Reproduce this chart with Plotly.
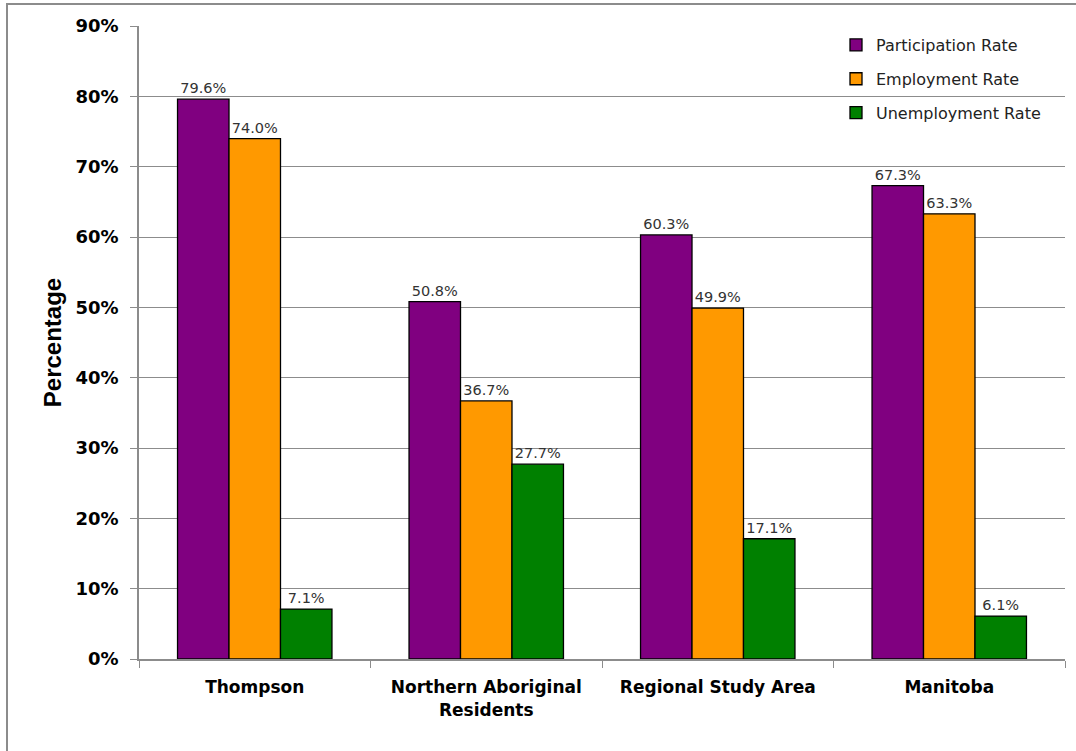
import plotly.graph_objects as go

categories = ["Thompson", "Northern Aboriginal<br>Residents", "Regional Study Area", "Manitoba"]
series_names = ["Participation Rate", "Employment Rate", "Unemployment Rate"]
participation = [79.6, 50.8, 60.3, 67.3]
employment = [74.0, 36.7, 49.9, 63.3]
unemployment = [7.1, 27.7, 17.1, 6.1]
colors = ["#800080", "#FF9900", "#008000"]
tick_vals = [0, 10, 20, 30, 40, 50, 60, 70, 80, 90]
tick_text = [f"{v}%" for v in tick_vals]

fig = go.Figure()
for name, vals, col in zip(series_names, [participation, employment, unemployment], colors):
    fig.add_trace(go.Bar(
        name=name, x=categories, y=vals, legendgroup=name,
        marker=dict(color=col, line=dict(color="black", width=1.3)),
        text=[f"{v:.1f}%" for v in vals], textposition="outside",
        textfont=dict(family="DejaVu Sans", size=14.5, color="#333333"),
        cliponaxis=False,
    ))

fig.update_layout(
    width=1076, height=751,
    margin=dict(l=139, r=11, t=26, b=92),
    paper_bgcolor="white", plot_bgcolor="white",
    barmode="group", bargap=0.333, bargroupgap=0,
    font=dict(family="DejaVu Sans", color="black"),
    showlegend=True,
    legend=dict(x=0.7527, y=0.9968, xanchor="left", yanchor="top",
                bgcolor="rgba(0,0,0,0)", font=dict(family="DejaVu Sans", size=16, color="#222222"),
                tracegroupgap=10, itemwidth=30),
    uniformtext=dict(mode=False),
)
fig.update_yaxes(
    range=[0, 90], tickvals=tick_vals, ticktext=tick_text,
    showgrid=True, gridcolor="#8c8c8c", gridwidth=1,
    showline=True, linecolor="#8c8c8c", linewidth=1.5,
    ticks="outside", ticklen=7, tickcolor="#8c8c8c", ticklabelstandoff=8,
    tickfont=dict(family="DejaVu Sans", size=18, color="black", weight="bold"),
    title=dict(text="<b>Percentage</b>", font=dict(family="Liberation Sans", size=24, color="black"), standoff=7),
    zeroline=False,
)
fig.update_xaxes(
    showline=True, linecolor="#8c8c8c", linewidth=2,
    ticks="outside", ticklen=7, tickcolor="#8c8c8c", tickson="boundaries",
    ticklabelstandoff=12,
    tickfont=dict(family="DejaVu Sans", size=17, color="black", weight="bold"),
)
fig.add_shape(type="rect", xref="paper", yref="paper",
              x0=(7 - 139) / 926, x1=(1090 - 139) / 926,
              y0=(659 - 770) / 633, y1=(659 - 4) / 633,
              line=dict(color="#8c8c8c", width=2), fillcolor="rgba(0,0,0,0)", layer="below")

fig.write_html("out.html")
